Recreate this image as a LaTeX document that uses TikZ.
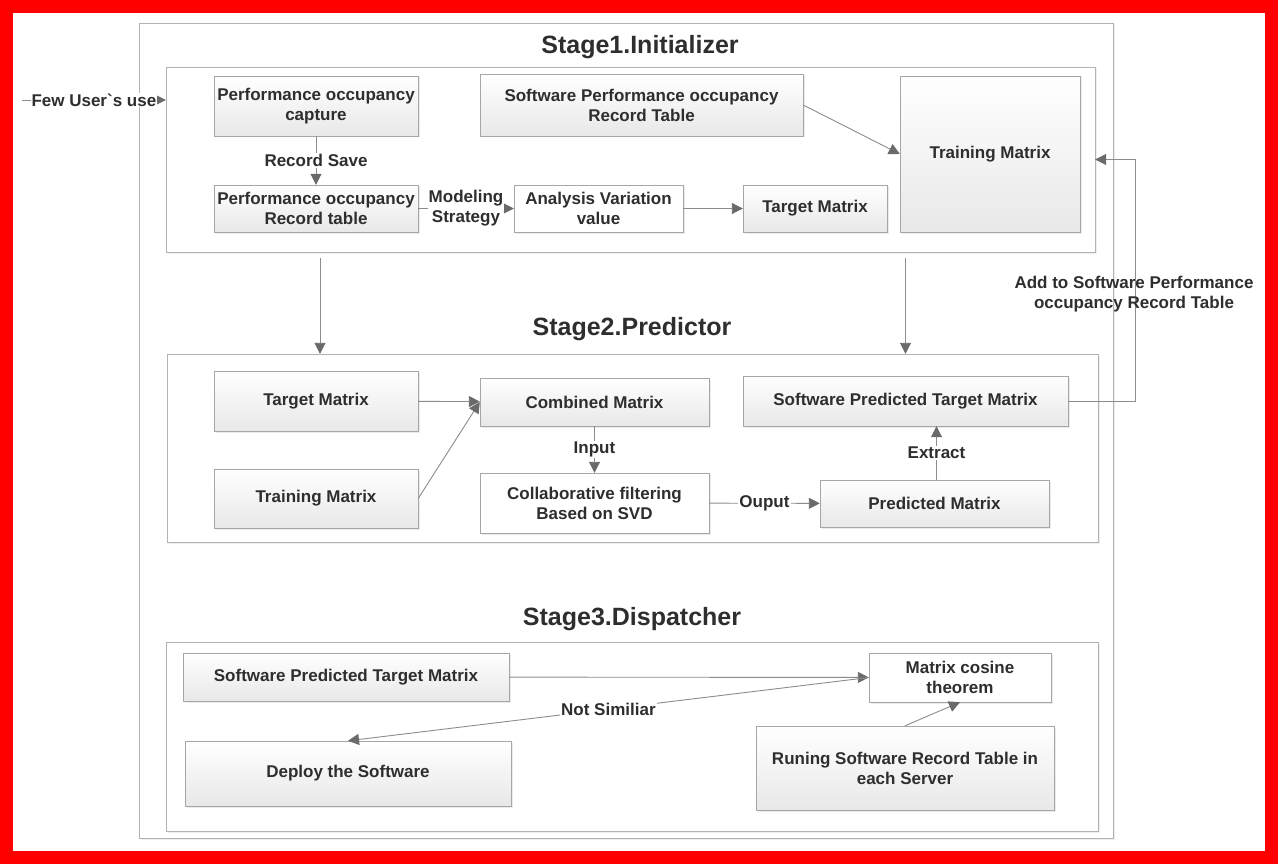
\documentclass[tikz,border=0pt]{standalone}
\usepackage{fontspec}
\setmainfont{Liberation Sans}
\usetikzlibrary{arrows.meta,shadows}
\pgfdeclarelayer{fondo}
\pgfsetlayers{fondo, main}
\definecolor{texto}{HTML}{2E2E2E}
\definecolor{linea}{HTML}{8C8C8C}
\definecolor{punta}{HTML}{6A6A6A}
\tikzstyle{marco}=[rectangle,draw=gray!60,fill=white,inner sep=0pt,drop shadow={shadow xshift=1.5pt,shadow yshift=-1.5pt,fill=gray!25}]
\tikzstyle{caja}=[rectangle,draw=gray!70,top color=white,bottom color=gray!18,inner sep=0pt,align=center,text=texto,font=\fontsize{17}{20}\selectfont\bfseries,drop shadow={shadow xshift=1.5pt,shadow yshift=-1.5pt,fill=gray!30}]
\tikzstyle{blanca}=[caja,top color=white,bottom color=white]
\tikzstyle{titulo}=[text=texto,font=\fontsize{25}{28}\selectfont\bfseries]
\tikzstyle{etiqueta}=[fill=white,inner sep=1pt,align=center,text=texto,font=\fontsize{17}{20}\selectfont\bfseries]
\tikzstyle{flecha}=[draw=linea,line width=0.9pt,-{Triangle[length=11pt,width=11pt,color=punta]}]

\begin{document}
\begin{tikzpicture}[x=1pt,y=-1pt]
		\useasboundingbox (0,0) rectangle (1278,864);
		\begin{pgfonlayer}{fondo}
			\fill[red] (0,0) rectangle (1278,864);
			\fill[white] (13,13) rectangle (1265,851);
			\node[marco,minimum width=974pt,minimum height=815pt] (todo) at (626,430.5) {};
			\node[marco,minimum width=929pt,minimum height=185pt] (s1) at (630.5,159.5) {};
			\node[marco,minimum width=931pt,minimum height=188pt] (s2) at (632.5,448) {};
			\node[marco,minimum width=932pt,minimum height=189pt] (s3) at (632,736.5) {};
		\end{pgfonlayer}
		\node[titulo] (t1) at (640,47) {Stage1.Initializer};
		\node[titulo] (t2) at (632,329) {Stage2.Predictor};
		\node[titulo] (t3) at (632,619) {Stage3.Dispatcher};

		\node[caja,minimum width=204pt,minimum height=60pt] (A) at (316,106) {Performance occupancy\\capture};
		\node[caja,minimum width=204pt,minimum height=47pt] (B) at (316,208.5) {Performance occupancy\\Record table};
		\node[blanca,minimum width=169pt,minimum height=47pt] (C) at (598.5,208.5) {Analysis Variation\\value};
		\node[caja,minimum width=144pt,minimum height=47pt] (D) at (815,208.5) {Target Matrix};
		\node[caja,minimum width=323pt,minimum height=62pt] (E) at (641.5,105) {Software Performance occupancy\\Record Table};
		\node[caja,minimum width=180pt,minimum height=156pt] (F) at (990,154) {Training Matrix};

		\node[caja,minimum width=204pt,minimum height=60pt] (G) at (316,401) {Target Matrix};
		\node[caja,minimum width=204pt,minimum height=59pt] (H) at (316,498.5) {Training Matrix};
		\node[caja,minimum width=229pt,minimum height=48pt] (I) at (594.5,402) {Combined Matrix};
		\node[blanca,minimum width=229pt,minimum height=60pt] (J) at (594.5,503) {Collaborative filtering\\Based on SVD};
		\node[caja,minimum width=325pt,minimum height=50pt] (K) at (905.5,401) {Software Predicted Target Matrix};
		\node[caja,minimum width=229pt,minimum height=47pt] (L) at (934.5,503.5) {Predicted Matrix};

		\node[caja,minimum width=326pt,minimum height=48pt] (M) at (346,677) {Software Predicted Target Matrix};
		\node[caja,minimum width=326pt,minimum height=65pt] (N) at (348,773.5) {Deploy the Software};
		\node[blanca,minimum width=182pt,minimum height=49pt] (O) at (960,677.5) {Matrix cosine\\theorem};
		\node[caja,minimum width=298pt,minimum height=84pt] (P) at (905,768) {Runing Software Record Table in\\each Server};

		\coordinate (usr) at (22,100);
		\draw[flecha] (usr) -- (usr -| s1.west) node[etiqueta,midway] {Few User\textasciigrave s use};
		\draw[flecha] (A) -- (B) node[etiqueta,midway] {Record Save};
		\draw[flecha] (B) -- (C) node[etiqueta,midway] {Modeling\\Strategy};
		\draw[flecha] (C) -- (D);
		\draw[flecha] (E.east) -- (F.west);

		\draw[flecha] ([xshift=4pt,yshift=-6pt]s1.south -| A.south) -- ([xshift=4pt]s2.north -| A.south);
		\draw[flecha] ([yshift=-6pt]s1.south -| K.south) -- (s2.north -| K.south);

		\draw[flecha] (G) -- (I);
		\draw[flecha] (H.east) -- (I.west);
		\draw[flecha] (I) -- (J) node[etiqueta,midway] {Input};
		\draw[flecha] (J) -- (L) node[etiqueta,midway] {Ouput};
		\draw[flecha] ([xshift=2pt]L.north) -- ([xshift=2pt]L.north |- K.south) node[etiqueta,midway] {Extract};
		\draw[flecha] (K.east) -- ++(67,0) |- (s1.east);
		\node[text=texto,align=center,font=\fontsize{17}{20}\selectfont\bfseries] (add) at (1134,294) {Add to Software Performance\\occupancy Record Table};

		\draw[flecha] (M) -- (O);
		\draw[flecha] (O.west) -- (N.north) node[etiqueta,midway] {Not Similiar};
		\draw[flecha] (P.north) -- (O.south);
	\end{tikzpicture}
\end{document}
